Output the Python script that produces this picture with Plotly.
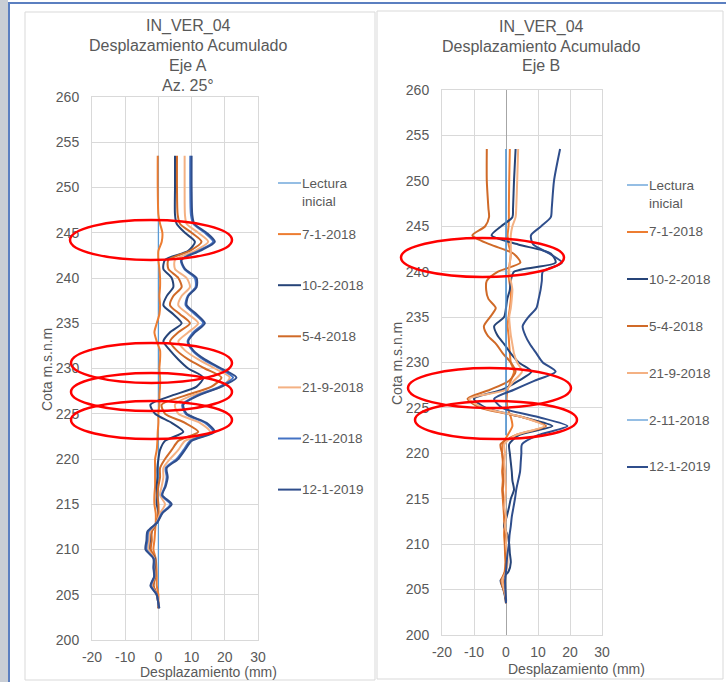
import plotly.graph_objects as go

W, H = 726, 682

# ---------------- data ----------------
DEPTH = [253.5, 250, 247, 246, 245, 244, 243, 242, 241, 240,
         239, 238, 237, 236, 235, 234, 233, 232, 231, 230,
         229, 228, 227, 226, 225, 224, 223, 222, 221, 220,
         219, 218, 217, 216, 215, 214, 213, 212, 211, 210,
         209, 208, 207, 206, 205, 204, 203.5]

SERIES_NAMES = ["Lectura inicial", "7-1-2018", "10-2-2018", "5-4-2018",
                "21-9-2018", "2-11-2018", "12-1-2019"]

# Eje A (left panel)
A_LECT = [0.0] * 45 + [None, None]
A_0701 = [-0.2, -0.2, 0.0, 0.5, 1.2, 1.0, 0.0, 0.0, 0.3, 0.5,
          0.5, 0.3, 0.5, 0.3, -0.5, -1.2, -0.5, 0.5, 0.5, 0.3,
          0.5, 0.5, 0.3, 0.3, 0.0, 0.0, -0.2, -0.3, -0.5, -1.0,
          -1.0, -1.0, -1.0, -1.2, -1.2, -0.8, -0.8, -1.0, -1.2, -1.5,
          -0.8, -0.6, -0.5, -0.5, 0.0, 0.0, 0.0]
A_1002 = [5.0, 5.0, 5.0, 5.5, 8.0, 11.0, 9.0, 2.0, 1.5, 4.0,
          4.5, 2.5, 1.5, 4.5, 7.0, 3.5, 1.5, 3.5, 6.0, 9.0,
          13.5, 11.5, 4.0, -2.4, -1.0, 4.0, 7.5, 2.0, 0.5, 0.0,
          -0.3, -0.3, -0.5, -0.5, -0.5, 0.0, -0.5, -2.0, -2.5, -2.5,
          -1.0, -1.0, -1.0, -1.5, -0.5, 0.0, 0.0]
A_0504 = [5.6, 5.6, 5.8, 6.5, 10.0, 13.0, 9.5, 3.0, 3.0, 6.0,
          7.0, 4.5, 3.5, 6.5, 9.5, 6.0, 3.5, 5.5, 9.0, 14.0,
          19.0, 16.0, 8.0, 1.0, 2.0, 8.0, 12.0, 6.0, 4.0, 2.0,
          0.5, 0.5, 0.0, -0.3, 0.0, 0.0, -0.5, -2.0, -2.0, -2.3,
          -1.2, -1.2, -1.0, -1.5, -0.5, 0.0, 0.0]
A_2109 = [7.9, 7.9, 8.0, 8.5, 12.0, 15.0, 11.0, 5.0, 5.0, 8.5,
          9.5, 7.0, 6.0, 9.0, 12.0, 9.0, 6.0, 8.0, 12.0, 17.0,
          21.5, 19.0, 10.0, 5.0, 6.0, 12.5, 15.5, 8.0, 6.0, 3.5,
          1.5, 1.5, 1.0, 0.5, 2.0, 0.5, -0.5, -2.5, -2.8, -3.0,
          -1.3, -1.3, -1.2, -2.0, -0.5, 0.0, 0.2]
A_0211 = [9.6, 9.6, 9.8, 10.5, 14.0, 16.5, 12.0, 6.8, 7.8, 11.0,
          11.2, 8.8, 8.2, 11.0, 13.5, 10.5, 8.8, 10.2, 13.5, 18.5,
          22.5, 18.5, 11.5, 7.2, 8.2, 14.0, 16.5, 9.6, 7.6, 5.5,
          2.2, 2.5, 2.0, 1.0, 3.6, 1.0, -0.4, -3.0, -3.3, -3.6,
          -1.4, -1.4, -1.2, -2.2, -0.5, 0.0, 0.2]
A_1201 = [10.0, 10.0, 10.2, 10.8, 14.5, 17.0, 12.5, 7.0, 8.0, 11.5,
          11.5, 9.0, 8.5, 11.5, 14.0, 11.0, 9.0, 10.5, 14.0, 19.0,
          23.5, 19.0, 12.0, 7.5, 8.5, 14.5, 17.0, 10.0, 8.0, 6.0,
          2.5, 2.8, 2.2, 1.2, 4.0, 1.2, -0.3, -3.3, -3.6, -3.9,
          -1.5, -1.5, -1.3, -2.4, -0.5, 0.0, 0.3]

# Eje B (right panel)
B_LECT = [0.0] * 28 + [None] * 19
B_0701 = [1.2, 1.0, 0.9, 0.9, 0.8, 0.5, 0.8, 1.5, 1.2, 0.8,
          1.0, 1.5, 1.5, 1.2, 0.8, 0.5, 0.8, 1.0, 1.2, 1.5,
          2.5, 1.5, 0.5, 0.2, 0.5, 1.5, 2.0, 0.5, -1.0, -1.2,
          -1.0, -1.2, -1.0, -1.2, -1.0, -0.8, -0.6, -0.5, -0.6, -0.4,
          -0.3, -0.2, -0.4, -1.0, -0.5, -0.2, 0.0]
B_1002 = [3.0, 2.5, 2.2, 2.0, -1.5, -4.5, 3.8, 14.0, 15.5, 2.5,
          1.5, 1.2, 0.4, 0.0, -0.6, -3.7, -2.7, -0.5, 1.5, 4.0,
          8.0, 4.0, -1.2, -10.0, -6.3, 5.0, 14.5, 4.0, 1.0, 1.2,
          1.5, 1.8, 2.0, 2.5, 1.5, 0.9, 0.2, -0.6, 0.5, 1.0,
          1.2, 1.5, 0.8, -1.7, -0.8, -0.2, 0.0]
B_0504 = [-6.0, -6.0, -5.5, -5.3, -6.5, -10.5, -5.0, 2.3, 4.5, -2.5,
          -6.0, -6.2, -5.5, -3.2, -5.0, -6.9, -5.8, -3.0, -1.0, 1.5,
          3.0, 1.0, -5.0, -12.0, -8.0, 5.0, 12.5, 3.0, -1.7, -1.2,
          -0.8, -1.0, -0.8, -1.0, -0.8, -0.6, -0.5, -0.4, -0.3, -0.3,
          -0.2, 0.0, -0.3, -1.5, -0.8, 0.0, 0.0]
B_2109 = [3.8, 3.5, 3.2, 3.0, 2.0, 1.5, 1.5, 1.5, 1.2, 1.0,
          1.5, 2.0, 1.8, 1.5, 1.0, 1.2, 1.5, 2.0, 2.5, 3.5,
          5.0, 2.5, 0.0, -11.5, -7.0, 5.0, 12.0, 3.0, -0.5, -0.3,
          -0.5, -0.3, -0.2, 0.0, -0.3, -0.5, 0.0, -0.3, 0.2, 0.0,
          0.3, 0.5, 0.0, -1.2, -0.6, 0.0, 0.0]
B_0211 = [0.0] * 28 + [None] * 19
B_1201 = [16.9, 15.0, 14.3, 14.0, 11.0, 7.8, 8.5, 13.5, 17.5, 11.5,
          11.2, 10.8, 10.2, 9.5, 7.0, 5.2, 6.0, 7.5, 9.5, 11.5,
          15.5, 9.0, 2.5, -3.7, -1.2, 10.0, 19.2, 10.0, 5.0, 4.8,
          4.6, 4.4, 3.8, 3.2, 2.8, 2.3, 1.8, 1.5, 1.1, 0.9,
          0.5, 0.2, 0.0, -0.3, -0.2, 0.0, 0.0]

X_TICKS = [-20, -10, 0, 10, 20, 30]
X_LABELS = ["-20", "-10", "0", "10", "20", "30"]
Y_TICKS = [200, 205, 210, 215, 220, 225, 230, 235, 240, 245, 250, 255, 260]

COLORS_A = ["#5B9BD5", "#ED7D31", "#264478", "#D06A28", "#F4B183", "#4472C4", "#2F4E8C"]
COLORS_B = ["#5B9BD5", "#ED7D31", "#264478", "#D06A28", "#F4B183", "#5B9BD5", "#2F4E8C"]
WIDTHS = [1.3, 2, 2, 2, 2, 2, 2]
WIDTHS_B = [1.3, 2, 2, 2, 2, 1.3, 2]

A_SERIES = [A_LECT, A_0701, A_1002, A_0504, A_2109, A_0211, A_1201]
B_SERIES = [B_LECT, B_0701, B_1002, B_0504, B_2109, B_0211, B_1201]

# ---------------- helpers (pixel -> paper) ----------------
def px(x):
    return x / W


def py(y):
    return 1 - y / H


GRAY = "#595959"
FONT = "Liberation Sans"

fig = go.Figure()

for vals, name, col, wd in zip(A_SERIES, SERIES_NAMES, COLORS_A, WIDTHS):
    fig.add_trace(go.Scatter(x=vals, y=DEPTH, mode="lines", name=name,
                             line=dict(color=col, width=wd, shape="spline", smoothing=0.7),
                             xaxis="x", yaxis="y", showlegend=False, connectgaps=False))
for vals, name, col, wd in zip(B_SERIES, SERIES_NAMES, COLORS_B, WIDTHS_B):
    fig.add_trace(go.Scatter(x=vals, y=DEPTH, mode="lines", name=name,
                             line=dict(color=col, width=wd, shape="spline", smoothing=0.7),
                             xaxis="x2", yaxis="y2", showlegend=False, connectgaps=False))

axis_common = dict(showgrid=True, gridcolor="#D9D9D9", gridwidth=1, showline=True,
                   linecolor="#D9D9D9", linewidth=1, mirror=True, ticks="", automargin=False,
                   tickfont=dict(family=FONT, size=14, color=GRAY), fixedrange=True)

fig.update_layout(
    template="none",
    width=W, height=H, margin=dict(l=0, r=0, t=0, b=0, pad=0, autoexpand=False),
    paper_bgcolor="white", plot_bgcolor="white",
    xaxis=dict(domain=[px(92), px(258)], range=[-20, 30], tickvals=X_TICKS, ticktext=X_LABELS,
               zeroline=False, anchor="y", ticklabelstandoff=4, **axis_common),
    yaxis=dict(domain=[py(640), py(97)], range=[200, 260], tickvals=Y_TICKS,
               zeroline=False, anchor="x", ticklabelstandoff=9, **axis_common),
    xaxis2=dict(domain=[px(442), px(602)], range=[-20, 30], tickvals=X_TICKS, ticktext=X_LABELS,
                zeroline=True, zerolinecolor="#A6A6A6", zerolinewidth=1, anchor="y2",
                ticklabelstandoff=4, **axis_common),
    yaxis2=dict(domain=[py(635), py(90)], range=[200, 260], tickvals=Y_TICKS,
                zeroline=False, anchor="x2", ticklabelstandoff=9, **axis_common),
    showlegend=False,
)

shapes = []
# background strip & frame
shapes.append(dict(type="rect", xref="paper", yref="paper", x0=0, x1=px(8), y0=0, y1=1,
                   fillcolor="#C9CED5", line=dict(width=0), layer="below"))
shapes.append(dict(type="line", xref="paper", yref="paper", x0=px(8), x1=1, y0=py(3), y1=py(3),
                   line=dict(color="#5B7FC0", width=2)))
shapes.append(dict(type="line", xref="paper", yref="paper", x0=px(9), x1=px(9), y0=py(3), y1=0,
                   line=dict(color="#5B7FC0", width=2)))
shapes.append(dict(type="rect", xref="paper", yref="paper", x0=px(25), x1=px(375), y0=py(680), y1=py(12),
                   line=dict(color="#D9D9D9", width=1), layer="below"))
shapes.append(dict(type="rect", xref="paper", yref="paper", x0=px(377), x1=px(723), y0=py(679), y1=py(11),
                   line=dict(color="#D9D9D9", width=1), layer="below"))

annotations = []
# titles
TITLE_A = ["IN_VER_04", "Desplazamiento Acumulado", "Eje A", "Az. 25°"]
TITLE_B = ["IN_VER_04", "Desplazamiento Acumulado", "Eje B"]
for i, t in enumerate(TITLE_A):
    annotations.append(dict(text=t, x=px(188), y=py(26 + 19.7 * i), xref="paper", yref="paper",
                            showarrow=False, xanchor="center", yanchor="middle",
                            font=dict(family=FONT, size=16, color=GRAY)))
for i, t in enumerate(TITLE_B):
    annotations.append(dict(text=t, x=px(541), y=py(27 + 19.3 * i), xref="paper", yref="paper",
                            showarrow=False, xanchor="center", yanchor="middle",
                            font=dict(family=FONT, size=16, color=GRAY)))
# axis titles
for (xc, yc) in [(208, 672), (576, 669)]:
    annotations.append(dict(text="Desplazamiento (mm)", x=px(xc), y=py(yc), xref="paper", yref="paper",
                            showarrow=False, xanchor="center", yanchor="middle",
                            font=dict(family=FONT, size=14, color=GRAY)))
for (xc, yc) in [(47, 370), (397, 364)]:
    annotations.append(dict(text="Cota m.s.n.m", x=px(xc), y=py(yc), xref="paper", yref="paper",
                            showarrow=False, xanchor="center", yanchor="middle", textangle=-90,
                            font=dict(family=FONT, size=14, color=GRAY)))

# legends
def legend(x0, x1, xt, y0, step, colors, widths):
    for i, (name, col, wd) in enumerate(zip(SERIES_NAMES, colors, widths)):
        yy = y0 + step * i
        shapes.append(dict(type="line", xref="paper", yref="paper", x0=px(x0), x1=px(x1),
                           y0=py(yy), y1=py(yy), line=dict(color=col, width=wd)))
        if i == 0:
            txt = "Lectura<br>inicial"
            annotations.append(dict(text=txt, x=px(xt), y=py(yy - 9.5), xref="paper", yref="paper",
                                    showarrow=False, xanchor="left", yanchor="top", align="left",
                                    font=dict(family=FONT, size=13.5, color=GRAY)))
        else:
            annotations.append(dict(text=name, x=px(xt), y=py(yy), xref="paper", yref="paper",
                                    showarrow=False, xanchor="left", yanchor="middle",
                                    font=dict(family=FONT, size=13.5, color=GRAY)))


legend(278, 301, 300, 183, 51.1, COLORS_A, WIDTHS)
legend(627, 648, 647, 185, 47.0, COLORS_B, WIDTHS_B)

# red highlight ellipses (pixel boxes)
ELLIPSES = [(70, 220, 232, 260), (71, 343, 232, 383), (71, 373, 232, 411), (71, 401, 232, 439),
            (401, 238, 564, 277), (408, 368, 571, 408), (415, 401, 577, 439)]
for (ex0, ey0, ex1, ey1) in ELLIPSES:
    shapes.append(dict(type="circle", xref="paper", yref="paper", x0=px(ex0), x1=px(ex1),
                       y0=py(ey1), y1=py(ey0), line=dict(color="#FF0000", width=2.5), layer="above"))

fig.update_layout(shapes=shapes, annotations=annotations)
fig.write_html("out.html")
